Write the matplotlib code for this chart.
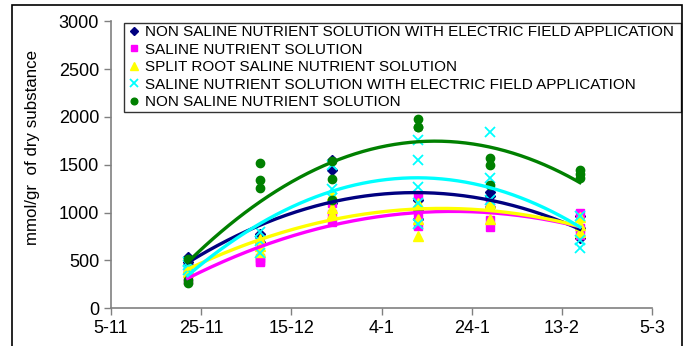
import numpy as np
import matplotlib
matplotlib.use("Agg")
import matplotlib.pyplot as plt
from matplotlib.patches import Rectangle

plt.rcParams['font.family'] = ['Liberation Sans', 'DejaVu Sans']

# days counted from 5-11
tick_days = [0, 20, 40, 60, 80, 100, 120]
tick_labels = ["5-11", "25-11", "15-12", "4-1", "24-1", "13-2", "5-3"]
sample_days = [17, 33, 49, 68, 84, 104]

# replicate values per sampling date
non_saline_ef = [[540, 480, 449], [780, 740, 697], [1550, 1450, 1096],
                 [1130, 1030, 930], [1220, 1170, 1064], [960, 840, 737]]
saline = [[400, 300, 377], [530, 480, 490], [1100, 985, 900],
          [1180, 960, 860], [1090, 918, 850], [1000, 840, 763]]
split_root = [[420, 383, 420], [650, 590, 728], [1180, 1050, 984],
              [1100, 936, 760], [1100, 1050, 931], [950, 866, 800]]
saline_ef = [[480, 450, 403], [800, 700, 577], [1500, 1250, 1150],
             [1760, 1550, 1270, 1100, 880], [1840, 1360, 1128], [960, 716, 630]]
non_saline = [[520, 300, 260], [1520, 1260, 1346], [1540, 1350, 1132],
              [1980, 1900, 1897], [1570, 1500, 1290], [1450, 1400, 1363]]

series = [
    ("NON SALINE NUTRIENT SOLUTION WITH ELECTRIC FIELD APPLICATION", non_saline_ef, "D", "#000080", 5),
    ("SALINE NUTRIENT SOLUTION", saline, "s", "#FF00FF", 6),
    ("SPLIT ROOT SALINE NUTRIENT SOLUTION", split_root, "^", "#FFFF00", 6.5),
    ("SALINE NUTRIENT SOLUTION WITH ELECTRIC FIELD APPLICATION", saline_ef, "x", "#00FFFF", 7),
    ("NON SALINE NUTRIENT SOLUTION", non_saline, "o", "#008000", 6),
]

fig = plt.figure(figsize=(6.84, 3.46), dpi=100)
ax = fig.add_axes([0.1623, 0.109, 0.7909, 0.8294])

fits = []
for name, vals, mk, col, ms in series:
    xs = []
    ys = []
    for d, group in zip(sample_days, vals):
        xs += [d] * len(group)
        ys += group
    if mk == "x":
        ax.plot(xs, ys, linestyle="none", marker=mk, color=col, markersize=ms,
                markeredgewidth=1.3, label=name, zorder=3)
    else:
        ax.plot(xs, ys, linestyle="none", marker=mk, color=col, markersize=ms,
                markeredgecolor=col, label=name, zorder=3)
    fits.append((np.polyfit(xs, ys, 2), col))

# second order trend lines
xx = np.linspace(sample_days[0], sample_days[-1], 200)
for coef, col in fits:
    ax.plot(xx, np.polyval(coef, xx), color=col, linewidth=2.4, zorder=4)

ax.set_xlim(0, 120)
ax.set_ylim(0, 3000)
ax.set_xticks(tick_days)
ax.set_xticklabels(tick_labels)
ax.set_yticks(range(0, 3001, 500))
ax.tick_params(labelsize=13, color="#808080", length=5, width=1)
for s in ["top", "right"]:
    ax.spines[s].set_visible(False)
for s in ["left", "bottom"]:
    ax.spines[s].set_color("#808080")
    ax.spines[s].set_linewidth(1.2)

fig.text(0.048, 1 - 147 / 346, "mmol/gr  of dry substance", rotation=90,
         fontsize=12.2, ha="center", va="center")

leg = ax.legend(loc="upper left",
                bbox_to_anchor=(124 / 684, 1 - 112 / 346, (681 - 124) / 684, 89 / 346),
                bbox_transform=fig.transFigure, mode="expand", fontsize=10.95,
                frameon=True, fancybox=False, edgecolor="black", borderpad=0.15,
                labelspacing=0.23, handletextpad=0.2, handlelength=1.0,
                borderaxespad=0, markerscale=0.8)
leg.get_frame().set_linewidth(1.0)

fig.patches.append(Rectangle((12 / 684, -0.1), (682 - 12) / 684, 1.1 - 5 / 346,
                             transform=fig.transFigure, fill=False,
                             edgecolor="black", linewidth=1.2))

fig.savefig("out.png", dpi=100)
